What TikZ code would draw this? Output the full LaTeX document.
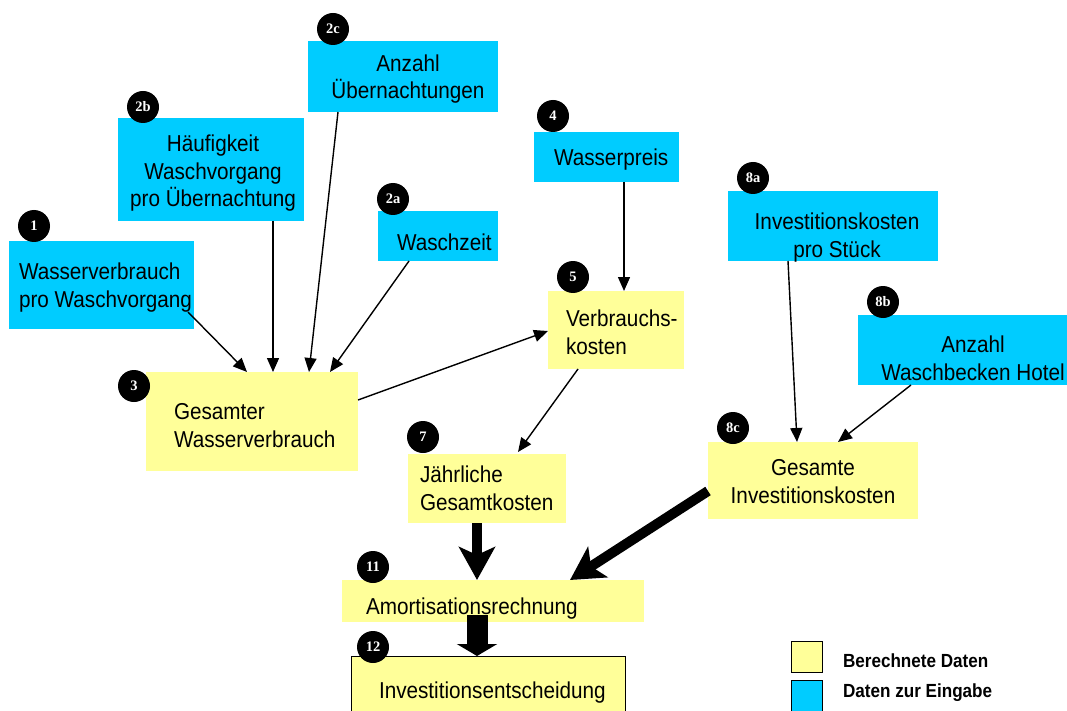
\documentclass[tikz,border=0pt]{standalone}
\usepackage{fontspec}
\setmainfont{Liberation Sans}[FakeStretch=0.9]
\newfontfamily\badgefont{Liberation Serif}
\usetikzlibrary{arrows.meta}
\definecolor{inblue}{HTML}{00CCFF}
\definecolor{calcyellow}{HTML}{FFFF99}
\begin{document}
\begin{tikzpicture}[x=1pt,y=-1pt,
  inbox/.style={rectangle, fill=inblue, draw=none, inner sep=0pt, outer sep=0pt},
  calcbox/.style={rectangle, fill=calcyellow, draw=none, inner sep=0pt, outer sep=0pt},
  lbl/.style={font=\fontsize{23}{27.5}\selectfont, inner sep=0pt, outer sep=0pt, text=black},
  leglbl/.style={font=\bfseries\fontsize{19}{19}\selectfont, inner sep=0pt, outer sep=0pt, anchor=base west},
  badge/.style={circle, fill=black, minimum size=32pt, inner sep=0pt, text=white, font=\badgefont\bfseries\fontsize{14.5}{14.5}\selectfont},
  thinarrow/.style={-{Triangle[length=14pt,width=12pt]}, line width=1.4pt},
  thickarrow/.style={-{Stealth[length=33pt,width=36pt,inset=8pt]}, line width=10pt},
  fatarrow/.style={-{Triangle[length=12pt,width=40pt]}, line width=21pt}
]
\useasboundingbox (0,0) rectangle (1067,711);

% input boxes
\node[inbox, minimum width=185pt, minimum height=88pt] (b1) at (101.5,285) {};
\node[inbox, minimum width=186pt, minimum height=103pt] (b2b) at (211,169.5) {};
\node[inbox, minimum width=190pt, minimum height=71pt] (b2c) at (403,76.5) {};
\node[inbox, minimum width=120pt, minimum height=50pt] (b2a) at (438,236) {};
\node[inbox, minimum width=145pt, minimum height=50pt] (b4) at (606.5,157) {};
\node[inbox, minimum width=210pt, minimum height=70pt] (b8a) at (833,226) {};
\node[inbox, minimum width=209pt, minimum height=70pt] (b8b) at (962.5,350) {};
% calculated boxes
\node[calcbox, minimum width=210pt, minimum height=77pt] (b8c) at (813,480.5) {};
\node[calcbox, minimum width=136pt, minimum height=78pt] (b5) at (616,330) {};
\node[calcbox, minimum width=212pt, minimum height=99pt] (b3) at (252,421.5) {};
\node[calcbox, minimum width=158pt, minimum height=69pt] (b7) at (487,488.5) {};
\node[calcbox, minimum width=302pt, minimum height=42pt] (b11) at (493,601) {};
\node[calcbox, draw=black, line width=1pt, minimum width=274pt, minimum height=64pt] (b12) at (488,688) {};

% legend
\node[calcbox, draw=black, line width=1pt, minimum size=31pt] (legy) at (806.5,656.5) {};
\node[inbox, draw=black, line width=1pt, minimum size=31pt] (legb) at (806.5,695.5) {};
\node[leglbl] (legyt) at (843,667) {Berechnete Daten};
\node[leglbl] (legbt) at (843,697) {Daten zur Eingabe};

% thin arrows
\draw[thinarrow] ([xshift=179pt,yshift=-71pt]b1.north west) -- ([xshift=101pt]b3.north west);
\draw[thinarrow] ([xshift=155pt]b2b.south west) -- ([xshift=127pt]b3.north west);
\draw[thinarrow] ([xshift=30pt]b2c.south west) -- ([xshift=163pt]b3.north west);
\draw[thinarrow] ([xshift=31pt]b2a.south west) -- ([xshift=184pt]b3.north west);
\draw[thinarrow] ([yshift=-28pt]b3.north east) -- ([yshift=-40pt]b5.north west);
\draw[thinarrow] ([xshift=90pt]b4.south west) -- ([xshift=76pt]b5.north west);
\draw[thinarrow] ([xshift=30pt]b5.south west) -- ([xshift=110pt,yshift=2pt]b7.north west);
\draw[thinarrow] ([xshift=60pt]b8a.south west) -- ([xshift=89pt]b8c.north west);
\draw[thinarrow] ([xshift=53pt]b8b.south west) -- ([xshift=130pt]b8c.north west);

% thick arrows
\draw[thickarrow] ([xshift=69pt]b7.south west) -- ([xshift=135pt]b11.north west);
\draw[thickarrow] ([yshift=-49pt]b8c.north west) -- ([xshift=228pt]b11.north west);

% texts (multi-line nodes: base anchor = baseline of last line)
\node[lbl, anchor=base west, align=left] (t1) at (19,307) {Wasserverbrauch\\pro Waschvorgang};
\node[lbl, anchor=base, align=center] (t2b) at (213,207) {Häufigkeit\\Waschvorgang\\pro Übernachtung};
\node[lbl, anchor=base, align=center] (t2c) at (408,99) {Anzahl\\Übernachtungen};
\node[lbl, anchor=base west] (t2a) at (397,251) {Waschzeit};
\node[lbl, anchor=base west] (t4) at (554,166) {Wasserpreis};
\node[lbl, anchor=base, align=center] (t8a) at (837,257) {Investitionskosten\\pro Stück};
\node[lbl, anchor=base, align=center] (t8b) at (973,380) {Anzahl\\Waschbecken Hotel};
\node[lbl, anchor=base, align=center] (t8c) at (813,503) {Gesamte\\Investitionskosten};
\node[lbl, anchor=base west, align=left] (t5) at (566,354) {Verbrauchs-\\kosten};
\node[lbl, anchor=base west, align=left] (t3) at (174,447) {Gesamter\\Wasserverbrauch};
\node[lbl, anchor=base west, align=left] (t7) at (420,510) {Jährliche\\Gesamtkosten};
\node[lbl, anchor=base west] (t11) at (366,614) {Amortisationsrechnung};
\node[lbl, anchor=base west] (t12) at (379,698) {Investitionsentscheidung};

% fat arrow
\draw[fatarrow] ([xshift=135pt,yshift=-35pt]b11.north west) -- ([xshift=126pt]b12.north west);

% badges
\node[badge] (n1) at (34,226) {1};
\node[badge] (n2b) at (143,107) {2b};
\node[badge] (n2c) at (333,29) {2c};
\node[badge] (n2a) at (393,199) {2a};
\node[badge] (n4) at (553,116) {4};
\node[badge] (n8a) at (753,178) {8a};
\node[badge] (n8b) at (883,302) {8b};
\node[badge] (n8c) at (733,428) {8c};
\node[badge] (n5) at (573,277) {5};
\node[badge] (n3) at (134,386) {3};
\node[badge] (n7) at (423,437) {7};
\node[badge] (n11) at (373,567) {11};
\node[badge] (n12) at (373,647) {12};
\end{tikzpicture}
\end{document}
